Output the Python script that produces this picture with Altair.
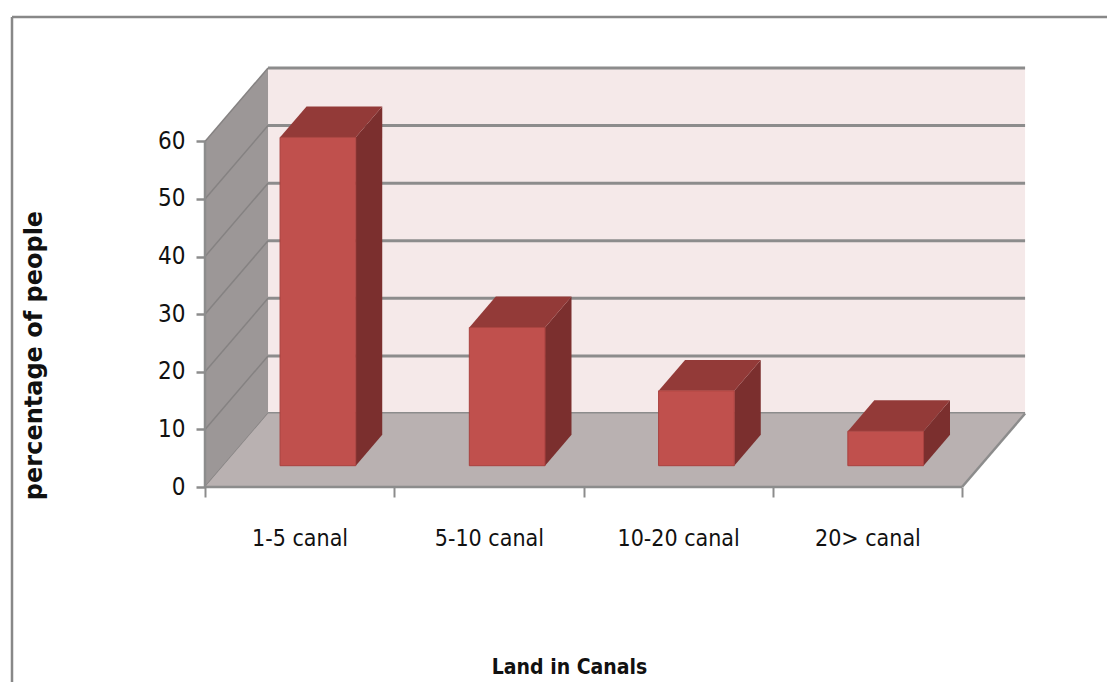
import altair as alt
import pandas as pd

# Survey data
categories = ["1-5 canal", "5-10 canal", "10-20 canal", "20> canal"]
percent = [57, 24, 13, 6]
y_ticks = [0, 10, 20, 30, 40, 50, 60]
x_ticks = [0, 1, 2, 3, 4]

# Oblique projection of the 3-D box: one unit of depth moves a point
# right (in category units) and up (in value units).
DX = 0.333
DY = 12.75
F0, F1 = 0.29, 0.71          # bar front / back depth
BAR_L, BAR_R = 0.30, 0.70    # bar edges inside a category slot
TOP = max(y_ticks)
N = len(categories)

FONT = "DejaVu Sans Condensed, Liberation Sans Narrow, Liberation Sans"
GRID = "#8C8C8C"

labels_js = "[" + ",".join("'" + c + "'" for c in categories) + "]"

X_AXIS = alt.Axis(
    values=x_ticks, grid=False, domain=False, tickSize=10, tickWidth=2,
    tickColor=GRID, labelExpr=f"datum.value < {N} ? {labels_js}[datum.value] : ''",
    labelOffset=94.6, labelPadding=41, labelBaseline="middle", labelAlign="center",
    labelFont=FONT, labelFontSize=23, labelColor="#111111", labelFlush=False,
    labelOverlap=False, title="Land in Canals", titleFont=FONT, titleFontSize=21,
    titleFontWeight="bold", titleColor="#111111", titleX=364, titleY=180,
    titleAlign="center", titleBaseline="middle",
)
Y_AXIS = alt.Axis(
    values=y_ticks, grid=False, domain=False, tickSize=9, tickWidth=2.5,
    tickColor=GRID, labelFont=FONT, labelFontSize=24, labelColor="#111111",
    labelPadding=11, title="percentage of people", titleFont="DejaVu Sans",
    titleFontSize=24, titleFontWeight="bold", titleColor="#111111",
    titleAngle=270, titleX=-171, titleY=295, titleAlign="center",
    titleBaseline="middle",
)
XS = alt.Scale(domain=[0, 4.359], nice=False, zero=False)
YS = alt.Scale(domain=[0, 74.13], nice=False, zero=False)


def xq(field):
    return alt.X(field, type="quantitative", scale=XS, axis=X_AXIS)


def yq(field):
    return alt.Y(field, type="quantitative", scale=YS, axis=Y_AXIS)


# Back wall and its gridlines
back_wall = pd.DataFrame([{"x": DX, "x2": DX + N, "y": DY, "y2": DY + TOP}])
back_grid = pd.DataFrame([{"x": DX, "x2": DX + N, "y": DY + v} for v in y_ticks])

# Side wall (left) and its slanted gridlines
side_wall = pd.DataFrame([
    {"x": 0, "lo": 0, "hi": TOP},
    {"x": DX, "lo": DY, "hi": DY + TOP},
])
side_grid = pd.DataFrame(
    [{"v": v, "x": 0, "y": v} for v in y_ticks]
    + [{"v": v, "x": DX, "y": DY + v} for v in y_ticks]
)

# Floor
floor = pd.DataFrame([
    {"y": 0, "xl": 0, "xr": N},
    {"y": DY, "xl": DX, "xr": DX + N},
])
edges = pd.DataFrame([
    {"e": "front", "x": 0, "y": 0}, {"e": "front", "x": N, "y": 0},
    {"e": "right", "x": N, "y": 0}, {"e": "right", "x": N + DX, "y": DY},
    {"e": "axis", "x": 0, "y": 0}, {"e": "axis", "x": 0, "y": TOP},
])

# Column faces
front_rows, side_rows, top_rows = [], [], []
for i, (c, v) in enumerate(zip(categories, percent)):
    front_rows.append({"cat": c, "x": i + BAR_L + DX * F0, "x2": i + BAR_R + DX * F0,
                       "y": DY * F0, "y2": DY * F0 + v, "value": v})
    for f in (F0, F1):
        side_rows.append({"cat": c, "x": i + BAR_R + DX * f, "lo": DY * f, "hi": DY * f + v})
        top_rows.append({"cat": c, "y": v + DY * f, "xl": i + BAR_L + DX * f,
                         "xr": i + BAR_R + DX * f})
fronts = pd.DataFrame(front_rows)
sides = pd.DataFrame(side_rows)
tops = pd.DataFrame(top_rows)

layers = [
    alt.Chart(back_wall).mark_rect(color="#F5E9E9").encode(
        x=xq("x"), x2="x2", y=yq("y"), y2="y2"),
    alt.Chart(back_grid).mark_rule(color=GRID, strokeWidth=3).encode(
        x=xq("x"), x2="x2", y=yq("y")),
    alt.Chart(side_wall).mark_area(color="#9C9797", opacity=1).encode(
        x=xq("x"), y=yq("lo"), y2="hi"),
    alt.Chart(side_grid).mark_line(color="#858282", strokeWidth=1.5).encode(
        x=xq("x"), y=yq("y"), detail="v:N"),
    alt.Chart(floor).mark_area(color="#B9B1B1", orient="horizontal", opacity=1).encode(
        y=yq("y"), x=xq("xl"), x2="xr"),
    alt.Chart(edges).mark_line(color=GRID, strokeWidth=2.5).encode(
        x=xq("x"), y=yq("y"), detail="e:N"),
    alt.Chart(sides).mark_area(color="#7B2F2E", opacity=1).encode(
        x=xq("x"), y=yq("lo"), y2="hi", detail="cat:N"),
    alt.Chart(tops).mark_area(color="#933A38", orient="horizontal", opacity=1).encode(
        y=yq("y"), x=xq("xl"), x2="xr", detail="cat:N"),
    alt.Chart(fronts).mark_rect(color="#C0504D", stroke="#A9423F", strokeWidth=1).encode(
        x=xq("x"), x2="x2", y=yq("y"), y2="y2"),
    # outer chart-area border
    alt.Chart(alt.Data(values=[{}])).mark_rule(color="#888888", strokeWidth=2.5).encode(
        x=alt.value(-193), x2=alt.value(902), y=alt.value(-43)),
    alt.Chart(alt.Data(values=[{}])).mark_rule(color="#888888", strokeWidth=2.5).encode(
        x=alt.value(-193), y=alt.value(-43), y2=alt.value(622)),
]

chart = alt.layer(*layers).properties(
    width=825, height=427,
    autosize=alt.AutoSizeParams(type="none"),
    padding={"left": 205, "top": 60, "right": 77, "bottom": 195},
    background="white",
).configure_view(stroke=None)

chart.save("out.html", embed_options={"renderer": "svg", "actions": False})
